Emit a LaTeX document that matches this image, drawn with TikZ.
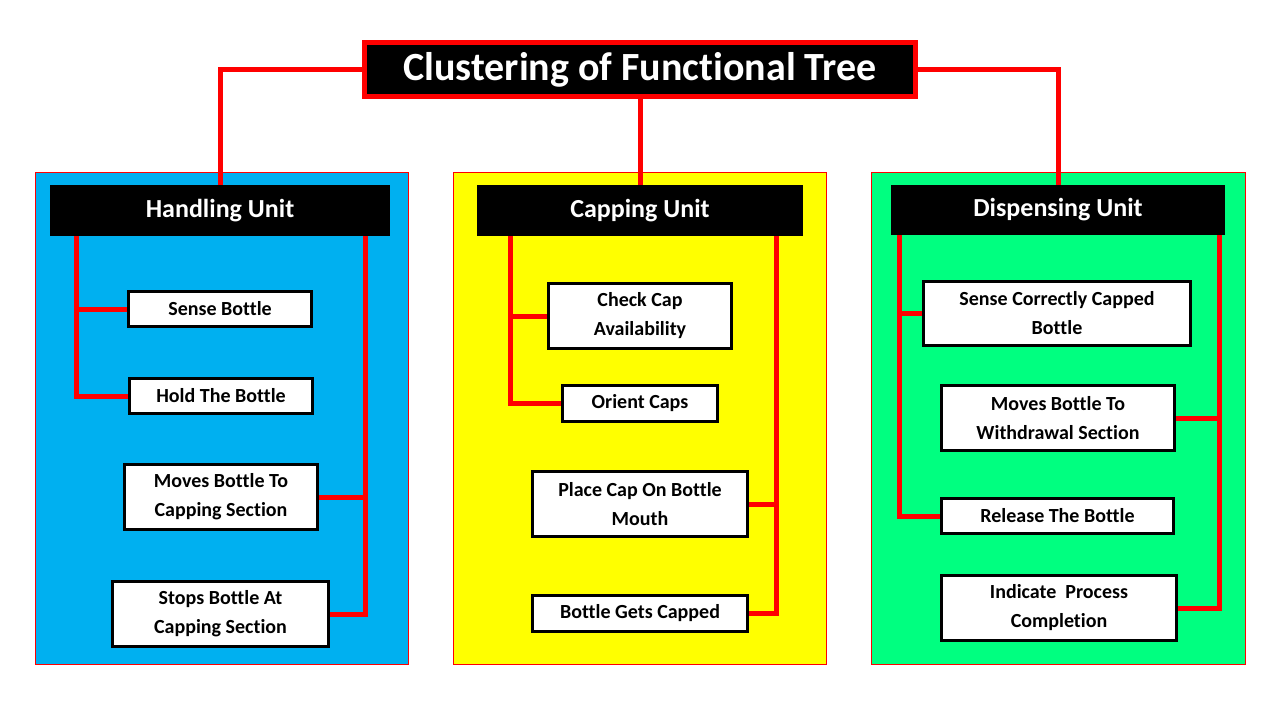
\documentclass[tikz,border=0pt]{standalone}
\usepackage{fontspec}
\setmainfont{Carlito}[Ligatures=NoCommon]
\definecolor{pblue}{HTML}{00B0F0}
\definecolor{pyellow}{HTML}{FFFF00}
\definecolor{pgreen}{HTML}{00FF80}
\definecolor{cred}{HTML}{FF0000}
\begin{document}
\begin{tikzpicture}[x=1pt,y=-1pt,
  panel/.style={draw=cred,line width=1pt},
  header/.style={fill=black,text=white,inner sep=0pt,font=\bfseries\fontsize{26}{30}\selectfont},
  child/.style={draw=black,line width=2.5pt,fill=white,inner sep=0pt,align=center,font=\bfseries\fontsize{20}{29}\selectfont},
  conn/.style={draw=cred,line width=5pt}]
\useasboundingbox (0,0) rectangle (1280,720);
\fill[white] (0,0) rectangle (1280,720);
% panels
\draw[panel,fill=pblue] (35,172) rectangle (408,664);
\draw[panel,fill=pyellow] (453,172) rectangle (826,664);
\draw[panel,fill=pgreen] (871,172) rectangle (1245,664);
% title
\node[fill=black,draw=cred,line width=5pt,text=white,inner sep=0pt,minimum width=551pt,minimum height=54pt,font=\bfseries\fontsize{40}{44}\selectfont] (title) at (640,69.5) {Clustering of Functional Tree};
% headers
\node[header,minimum width=340pt,minimum height=51pt] (hu) at (220,210.5) {Handling Unit};
\node[header,minimum width=326pt,minimum height=51pt] (cu) at (640,210.5) {Capping Unit};
\node[header,minimum width=334pt,minimum height=50pt] (du) at (1058,210) {Dispensing Unit};
% handling children
\node[child,minimum width=183pt,minimum height=35pt] (sb) at (220,309) {Sense Bottle};
\node[child,minimum width=183pt,minimum height=35pt] (hb) at (221,396) {Hold The Bottle};
\node[child,minimum width=193pt,minimum height=65pt] (mb) at (221,497) {Moves Bottle To\\Capping Section};
\node[child,minimum width=216pt,minimum height=65pt] (st) at (220.5,614) {Stops Bottle At\\Capping Section};
% capping children
\node[child,minimum width=183pt,minimum height=65pt] (cc) at (640,316) {Check Cap\\Availability};
\node[child,minimum width=155pt,minimum height=36pt] (oc) at (640,403.5) {Orient Caps};
\node[child,minimum width=215pt,minimum height=65pt] (pc) at (640,504) {Place Cap On Bottle\\Mouth};
\node[child,minimum width=215pt,minimum height=36pt] (bg) at (640,613.5) {Bottle Gets Capped};
% dispensing children
\node[child,minimum width=267pt,minimum height=64pt] (sc) at (1057,313.5) {Sense Correctly Capped\\Bottle};
\node[child,minimum width=233pt,minimum height=65pt] (mw) at (1058,418) {Moves Bottle To\\Withdrawal Section};
\node[child,minimum width=232pt,minimum height=35pt] (rb) at (1057.5,516) {Release The Bottle};
\node[child,minimum width=235pt,minimum height=65pt] (ip) at (1059,608) {Indicate~ Process\\Completion};
% title connectors
\draw[conn] (title.west) -| (hu.north);
\draw[conn] (title.south) -- (cu.north);
\draw[conn] (title.east) -| (du.north);
% bus coordinates
\coordinate (hL) at (76,236);
\coordinate (hR) at (365,236);
\coordinate (cL) at (510,236);
\coordinate (cR) at (776,236);
\coordinate (dL) at (899,235);
\coordinate (dR) at (1219,235);
% handling
\draw[conn] (hL) |- (hb.west);
\draw[conn] (sb.west) -- (sb.west -| hL);
\draw[conn] (hR) |- (st.east);
\draw[conn] (mb.east) -- (mb.east -| hR);
% capping
\draw[conn] (cL) |- (oc.west);
\draw[conn] (cc.west) -- (cc.west -| cL);
\draw[conn] (cR) |- (bg.east);
\draw[conn] (pc.east) -- (pc.east -| cR);
% dispensing
\draw[conn] (dL) |- (rb.west);
\draw[conn] (sc.west) -- (sc.west -| dL);
\draw[conn] (dR) |- (ip.east);
\draw[conn] (mw.east) -- (mw.east -| dR);
\end{tikzpicture}
\end{document}
